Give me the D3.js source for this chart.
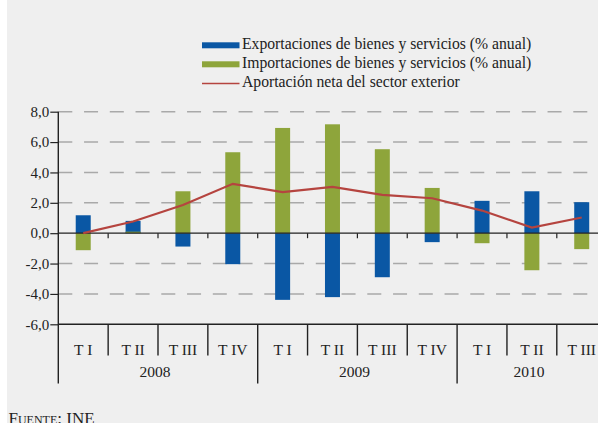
<!DOCTYPE html>
<html>
<head>
<meta charset="utf-8">
<script src="https://cdn.jsdelivr.net/npm/d3@7"></script>
<style>
  body { margin: 0; background: #fff; }
  svg { display: block; font-family: 'Liberation Serif', 'Times New Roman', serif; }
</style>
</head>
<body>
<div id="chart"></div>
<script>
// data
const quarters = ['T I', 'T II', 'T III', 'T IV', 'T I', 'T II', 'T III', 'T IV', 'T I', 'T II', 'T III']
const years = ['2008', '2008', '2008', '2008', '2009', '2009', '2009', '2009', '2010', '2010', '2010']
const exportaciones = [1.18, 0.81, -0.88, -2.04, -4.39, -4.21, -2.9, -0.59, 2.13, 2.76, 2.04]
const importaciones = [-1.12, 0.1, 2.76, 5.33, 6.93, 7.17, 5.53, 2.98, -0.66, -2.44, -1.05]
const aportacion = [0.0, 0.77, 1.86, 3.25, 2.7, 3.05, 2.52, 2.3, 1.49, 0.37, 1.03]
const yTicks = [8, 6, 4, 2, 0, -2, -4, -6]
const legendLabels = [
  'Exportaciones de bienes y servicios (% anual)',
  'Importaciones de bienes y servicios (% anual)',
  'Aportación neta del sector exterior'
]

const width = 598
const height = 423
const blue = '#0a57a4'
const green = '#8ea53b'
const red = '#b5443f'
const serif = "'Liberation Serif', 'Times New Roman', serif"

const svg = d3
  .select('#chart')
  .append('svg')
  .attr('width', width)
  .attr('height', height)

svg.append('rect')
  .attr('x', 7).attr('y', 0)
  .attr('width', width - 7).attr('height', height)
  .attr('fill', '#efefef')

const idx = d3.range(quarters.length)

const x = d3
  .scaleBand()
  .domain(idx)
  .range([58.3, 58.3 + 11 * 49.85])
  .padding(0)

const y = d3
  .scaleLinear()
  .domain([-6, 8])
  .range([324.3, 111.7])

const barW = 15
const cx = i => x(i) + x.bandwidth() / 2

// dashed grid
svg.append('g')
  .selectAll('line')
  .data(yTicks.filter(d => d !== 0 && d !== -6))
  .enter()
  .append('line')
  .attr('x1', x.range()[0]).attr('x2', width)
  .attr('y1', d => y(d)).attr('y2', d => y(d))
  .attr('stroke', '#a9a9a9')
  .attr('stroke-width', 1.4)
  .attr('stroke-dasharray', '14,11.75')

// bars: exports first, imports on top
function bars(values, color) {
  svg.append('g')
    .selectAll('rect')
    .data(values)
    .enter()
    .append('rect')
    .attr('x', (d, i) => cx(i) - barW / 2)
    .attr('width', barW)
    .attr('y', d => y(Math.max(0, d)))
    .attr('height', d => Math.abs(y(d) - y(0)))
    .attr('fill', color)
}
bars(exportaciones, blue)
bars(importaciones, green)

// zero line + little ticks below it
svg.append('line')
  .attr('x1', x.range()[0]).attr('x2', width)
  .attr('y1', y(0)).attr('y2', y(0))
  .attr('stroke', '#222').attr('stroke-width', 1.2)

svg.append('g')
  .selectAll('line')
  .data(idx.slice(1))
  .enter()
  .append('line')
  .attr('x1', d => x(d)).attr('x2', d => x(d))
  .attr('y1', y(0)).attr('y2', y(0) + 5)
  .attr('stroke', '#222').attr('stroke-width', 1.2)

// net contribution line
const line = d3.line()
  .x((d, i) => cx(i))
  .y(d => y(d))

svg.append('path')
  .datum(aportacion)
  .attr('d', line)
  .attr('fill', 'none')
  .attr('stroke', red)
  .attr('stroke-width', 2.2)

// y axis
const yAxis = d3.axisLeft(y)
  .tickValues(yTicks)
  .tickSize(8)
  .tickPadding(1)
  .tickFormat(d => d.toFixed(1).replace('.', ','))

const gy = svg.append('g')
  .attr('transform', `translate(${x.range()[0]},0)`)
  .attr('font-family', serif)
  .call(yAxis)
gy.attr('font-family', serif).attr('font-size', 15)
gy.select('.domain').remove()
gy.selectAll('line').attr('stroke', '#222').attr('stroke-width', 1.2)
gy.selectAll('text').attr('fill', '#222')

svg.append('line')
  .attr('x1', x.range()[0]).attr('x2', x.range()[0])
  .attr('y1', y(8)).attr('y2', 383.5)
  .attr('stroke', '#222').attr('stroke-width', 1.4)

// bottom axis and category table
svg.append('line')
  .attr('x1', x.range()[0]).attr('x2', width)
  .attr('y1', y(-6)).attr('y2', y(-6))
  .attr('stroke', '#222').attr('stroke-width', 1.4)

svg.append('g')
  .selectAll('line')
  .data(idx.slice(1))
  .enter()
  .append('line')
  .attr('x1', d => x(d)).attr('x2', d => x(d))
  .attr('y1', y(-6))
  .attr('y2', d => years[d] !== years[d - 1] ? 383.5 : 355.5)
  .attr('stroke', '#222').attr('stroke-width', 1.4)

svg.append('g')
  .selectAll('text')
  .data(quarters)
  .enter()
  .append('text')
  .attr('x', (d, i) => cx(i))
  .attr('y', 355)
  .attr('text-anchor', 'middle')
  .attr('font-size', 15.5)
  .attr('fill', '#222')
  .text(d => d)

const yearGroups = d3.groups(idx, i => years[i])
svg.append('g')
  .selectAll('text')
  .data(yearGroups)
  .enter()
  .append('text')
  .attr('x', d => (x(d[1][0]) + x(d[1][d[1].length - 1]) + x.bandwidth()) / 2 - 3)
  .attr('y', 377)
  .attr('text-anchor', 'middle')
  .attr('font-size', 15.5)
  .attr('fill', '#222')
  .text(d => d[0])

// legend
const legend = svg.append('g').attr('transform', 'translate(202,0)')
legendLabels.forEach((label, i) => {
  const ly = 49 + i * 19
  if (i < 2) {
    legend.append('rect')
      .attr('x', 0).attr('y', ly - 6.7)
      .attr('width', 37.5).attr('height', 6)
      .attr('fill', i === 0 ? blue : green)
  } else {
    legend.append('line')
      .attr('x1', 0).attr('x2', 37.5)
      .attr('y1', ly - 3.5).attr('y2', ly - 3.5)
      .attr('stroke', red).attr('stroke-width', 1.6)
  }
  legend.append('text')
    .attr('x', 40)
    .attr('y', ly)
    .attr('font-size', 15.7)
    .attr('fill', '#222')
    .text(label)
})

// source
svg.append('text')
  .attr('x', 8.5)
  .attr('y', 424)
  .attr('font-size', 17)
  .attr('font-variant', 'small-caps')
  .attr('fill', '#222')
  .text('Fuente: INE')
</script>
</body>
</html>
